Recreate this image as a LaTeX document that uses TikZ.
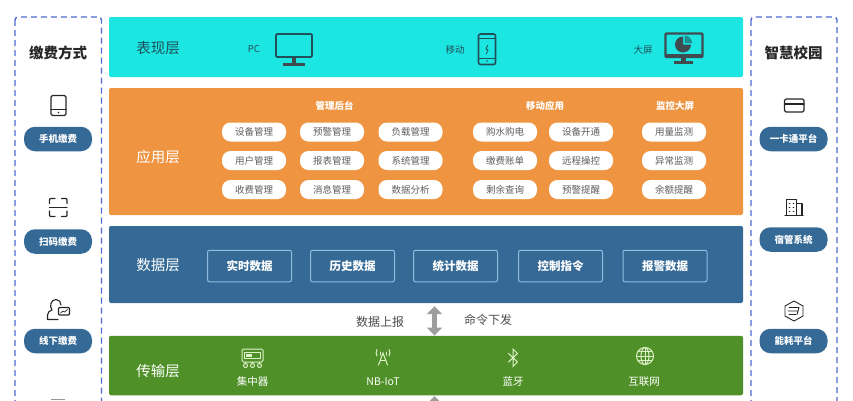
\documentclass[tikz,border=0pt]{standalone}
\usepackage{fontspec}
\setmainfont{Noto Sans CJK SC}
\usetikzlibrary{arrows.meta}
\definecolor{cyanlayer}{HTML}{1BE6E2}
\definecolor{orangelayer}{HTML}{EF9542}
\definecolor{bluelayer}{HTML}{356A97}
\definecolor{greenlayer}{HTML}{4F9128}
\definecolor{sidedash}{HTML}{5068D2}
\definecolor{darkteal}{HTML}{22505A}
\definecolor{darkscreen}{HTML}{404B50}
\definecolor{chiptext}{HTML}{5E5E5E}
\definecolor{paleline}{HTML}{8FBBDD}
\definecolor{palegreen}{HTML}{DDF2C8}
\tikzset{
  layerbox/.style={rounded corners=2pt, minimum width=634pt, inner sep=0pt},
  layertitle/.style={font=\fontsize{14.5}{16}\selectfont, text=white, inner sep=0pt},
  sidetitle/.style={font=\fontsize{14.5}{16}\selectfont\bfseries, text=black!85, inner sep=0pt},
  sidepanel/.style={draw=sidedash, line width=1.4pt, rounded corners=3pt, dash pattern=on 6pt off 4pt},
  pillbox/.style={fill=bluelayer, rounded corners=11pt, minimum width=68pt, minimum height=24.5pt, inner sep=0pt, text=white, font=\fontsize{9.5}{11}\selectfont\bfseries},
  chipbox/.style={fill=white, rounded corners=8.5pt, minimum width=64pt, minimum height=19pt, inner sep=0pt, text=chiptext, font=\fontsize{9.5}{11}\selectfont},
  chiphead/.style={text=white, inner sep=0pt, font=\fontsize{9.5}{11}\selectfont\bfseries},
  databox/.style={draw=paleline, line width=1pt, rounded corners=2pt, minimum width=84pt, minimum height=31.5pt, inner sep=0pt, text=white, font=\fontsize{11.5}{13}\selectfont\bfseries},
  showlabel/.style={text=darkteal, inner sep=0pt, font=\fontsize{9.5}{11}\selectfont},
  netlabel/.style={text=white, inner sep=0pt, font=\fontsize{10.5}{12}\selectfont},
  flowlabel/.style={text=black!70, inner sep=0pt, font=\fontsize{12}{14}\selectfont},
  updown/.style={draw=black!38, line width=5.5pt, {Triangle[width=15pt,length=8pt]}-{Triangle[width=15pt,length=8pt]}},
  iconline/.style={draw=black!85, line width=1.1pt, line join=round, line cap=round},
  screenline/.style={draw=darkteal, line width=1.6pt, rounded corners=1pt},
  netline/.style={draw=palegreen, line width=1pt, line cap=round}
}
\begin{document}
\begin{tikzpicture}[x=1pt,y=-1pt]
    \clip (0,0) rectangle (853,400);
    %cadres lateraux
    \draw[sidepanel] (15,17) rectangle (101.5,425);
    \draw[sidepanel] (751,17) rectangle (837,425);
    \node[sidetitle] (paytitle) at (58,53) {缴费方式};
    \node[sidetitle] (campustitle) at (793.5,53) {智慧校园};
    \node[pillbox] (payphone) at (58,139) {手机缴费};
    \node[pillbox] (payscan) at (58,241.5) {扫码缴费};
    \node[pillbox] (payoffline) at (58,341) {线下缴费};
    \node[pillbox] (campuscard) at (793.5,139) {一卡通平台};
    \node[pillbox] (campusdorm) at (793.5,239.5) {宿管系统};
    \node[pillbox] (campusenergy) at (793.5,341) {能耗平台};
    %couches
    \node[layerbox, fill=cyanlayer, minimum height=60pt] (showlayer) at (426,47) {};
    \node[layerbox, fill=orangelayer, minimum height=127pt] (applayer) at (426,151.5) {};
    \node[layerbox, fill=bluelayer, minimum height=77pt] (datalayer) at (426,264.5) {};
    \node[layerbox, fill=greenlayer, minimum height=59.5pt] (netlayer) at (426,365.5) {};
    \node[layertitle, text=darkteal] (showtitle) at (158,48) {表现层};
    \node[layertitle] (apptitle) at (158,157) {应用层};
    \node[layertitle] (datatitle) at (158,265) {数据层};
    \node[layertitle] (nettitle) at (158,371) {传输层};
    %presentation
    \node[showlabel] (pclabel) at (254,49.5) {PC};
    \node[showlabel] (mobilelabel) at (455,50) {移动};
    \node[showlabel] (screenlabel) at (643,50) {大屏};
    \draw[screenline] (276,34) rectangle (312,57);
    \fill[darkscreen] (291.5,58) rectangle (296,63);
    \fill[darkscreen] (283,63) rectangle (305,65.5);
    \draw[screenline, rounded corners=2pt] (478.5,34) rectangle (495.5,64.5);
    \draw[screenline, line width=0.8pt] (478.5,38) -- (495.5,38);
    \draw[screenline, line width=0.8pt] (478.5,58) -- (495.5,58);
    \fill[darkteal] (487,61) circle (0.9);
    \draw[screenline, line width=0.8pt] (488,45) -- (485.5,49.5) -- (488.5,49.5) -- (486,54);
    \draw[draw=darkscreen, line width=2.4pt, rounded corners=1pt] (665.5,33.5) rectangle (702.5,57);
    \fill[darkscreen] (665,54) rectangle (703,58);
    \fill[darkscreen] (681,58) rectangle (686,61);
    \fill[darkscreen] (674,61) rectangle (693,63.5);
    \fill[darkscreen] (683,44.5) -- (683,36.5) arc[start angle=-90, end angle=-360, radius=8] -- cycle;
    \fill[darkteal!60!cyanlayer] (684.5,43) -- (684.5,35.5) arc[start angle=-90, end angle=0, radius=7.5] -- cycle;
    %application
    \node[chiphead] (adminhead) at (334.5,106) {管理后台};
    \node[chiphead] (mobilehead) at (545,106) {移动应用};
    \node[chiphead] (monitorhead) at (675,106) {监控大屏};
    \node[chipbox] (devicemgr) at (254,132) {设备管理};
    \node[chipbox] (alarmmgr) at (332,132) {预警管理};
    \node[chipbox] (loadmgr) at (410.5,132) {负载管理};
    \node[chipbox] (buywater) at (505,132) {购水购电};
    \node[chipbox] (deviceopen) at (581,132) {设备开通};
    \node[chipbox] (usagewatch) at (674,132) {用量监测};
    \node[chipbox] (usermgr) at (254,160.5) {用户管理};
    \node[chipbox] (reportmgr) at (332,160.5) {报表管理};
    \node[chipbox] (systemmgr) at (410.5,160.5) {系统管理};
    \node[chipbox] (paybill) at (505,160.5) {缴费账单};
    \node[chipbox] (remotectl) at (581,160.5) {远程操控};
    \node[chipbox] (faultwatch) at (674,160.5) {异常监测};
    \node[chipbox] (feemgr) at (254,189.5) {收费管理};
    \node[chipbox] (messagemgr) at (332,189.5) {消息管理};
    \node[chipbox] (dataview) at (410.5,189.5) {数据分析};
    \node[chipbox] (balance) at (505,189.5) {剩余查询};
    \node[chipbox] (alarmnote) at (581,189.5) {预警提醒};
    \node[chipbox] (balancenote) at (674,189.5) {余额提醒};
    %donnees
    \node[databox] (livedata) at (249.5,266) {实时数据};
    \node[databox] (pastdata) at (352.5,266) {历史数据};
    \node[databox] (statdata) at (455.5,266) {统计数据};
    \node[databox] (ctrldata) at (560.5,266) {控制指令};
    \node[databox] (alarmdata) at (665,266) {报警数据};
    %fleches
    \node[flowlabel] (uplabel) at (380,322) {数据上报};
    \node[flowlabel] (downlabel) at (488,320) {命令下发};
    \coordinate (belownet) at (434.5,425);
    \draw[updown, shorten <=3pt] ([xshift=8.5pt]datalayer.south) -- ([xshift=8.5pt]netlayer.north);
    \draw[updown, shorten >=0.5pt] (belownet) -- ([xshift=8.5pt]netlayer.south);
    %transport
    \node[netlabel] (hublabel) at (252.5,381.5) {集中器};
    \node[netlabel] (nblabel) at (383,381.5) {NB-IoT};
    \node[netlabel] (btlabel) at (513,381.5) {蓝牙};
    \node[netlabel] (weblabel) at (644,381.5) {互联网};
    \draw[netline, rounded corners=1.5pt] (242,349) rectangle (263,362);
    \draw[netline] (244,352.5) rectangle (260,358);
    \fill[palegreen] (246,353.5) rectangle (252,357);
    \draw[netline] (245.5,362) -- (245.5,363.5);
    \draw[netline] (252.5,362) -- (252.5,363.5);
    \draw[netline] (259.5,362) -- (259.5,363.5);
    \draw[netline] (245.5,365.5) circle (2);
    \draw[netline] (252.5,365.5) circle (2);
    \draw[netline] (259.5,365.5) circle (2);
    \draw[netline] (378.5,365) -- (383,353) -- (387.5,365);
    \draw[netline] (380.5,360) -- (385.5,360);
    \draw[netline] (380,355) arc[start angle=150, end angle=210, radius=3];
    \draw[netline] (386,355) arc[start angle=30, end angle=-30, radius=3];
    \draw[netline] (377,356) arc[start angle=150, end angle=210, radius=6.5];
    \draw[netline] (389,356) arc[start angle=30, end angle=-30, radius=6.5];
    \draw[netline] (508.5,353.5) -- (517.5,362) -- (513,366.5) -- (513,349) -- (517.5,353.5) -- (508.5,362);
    \draw[netline] (645,356) circle (8.5);
    \draw[netline] (645,356) ellipse (4 and 8.5);
    \draw[netline] (645,347.5) -- (645,364.5);
    \draw[netline] (636.5,356) -- (653.5,356);
    \draw[netline] (638,351.5) -- (652,351.5);
    \draw[netline] (638,360.5) -- (652,360.5);
    %icones gauche
    \draw[iconline, rounded corners=1.5pt] (51,95.5) rectangle (66,115.5);
    \draw[iconline] (51,109.5) -- (66,109.5);
    \fill[black!85] (58.5,112.5) circle (0.9);
    \draw[iconline] (55,198.5) -- (50.5,198.5) -- (49.5,199.5) -- (49.5,203.5);
    \draw[iconline] (61.5,198.5) -- (66,198.5) -- (67,199.5) -- (67,203.5);
    \draw[iconline] (55,216.5) -- (50.5,216.5) -- (49.5,215.5) -- (49.5,211);
    \draw[iconline] (61.5,216.5) -- (66,216.5) -- (67,215.5) -- (67,211);
    \draw[iconline] (49.5,207.5) -- (67,207.5);
    \draw[iconline] (58,319.5) -- (47.5,319.5) -- (47.5,315) .. controls (47.5,312) and (50,310.5) .. (52,310) .. controls (49,306) and (51,299.5) .. (56,299.5) .. controls (59,299.5) and (61,302) .. (61,305);
    \draw[iconline, rounded corners=1pt] (58.5,307.5) rectangle (69.5,315);
    \draw[iconline, line width=0.7pt] (60.5,313) -- (63,311) -- (64.5,312) -- (67.5,309.5);
    \draw[black!40, line width=1.2pt] (51,399.5) -- (65,399.5);
    %icones droite
    \draw[iconline, rounded corners=1.5pt] (784.5,99) rectangle (804,112);
    \draw[iconline] (784.5,104) -- (804,104);
    \draw[iconline] (785,215.5) -- (803,215.5);
    \draw[iconline] (786.5,215.5) -- (786.5,199.5) -- (796.5,199.5) -- (796.5,215.5);
    \draw[iconline] (796.5,203.5) -- (802,203.5) -- (802,215.5);
    \draw[iconline, line width=0.9pt] (789,203) -- (790,203);
    \draw[iconline, line width=0.9pt] (793,203) -- (794,203);
    \draw[iconline, line width=0.9pt] (789,207) -- (790,207);
    \draw[iconline, line width=0.9pt] (793,207) -- (794,207);
    \draw[iconline, line width=0.9pt] (789,211) -- (790,211);
    \draw[iconline, line width=0.9pt] (793,211) -- (794,211);
    \draw[iconline, line width=0.9pt] (794,301) -- (803,306) -- (803,316) -- (794,321) -- (785,316) -- (785,306) -- cycle;
    \draw[iconline, line width=0.8pt] (789,307.5) -- (799,307.5) -- (798,311);
    \draw[iconline, line width=0.8pt] (788,311) -- (798,311) -- (797,314.5);
    \draw[iconline, line width=0.8pt] (789,314.5) -- (796,314.5);
\end{tikzpicture}
\end{document}
